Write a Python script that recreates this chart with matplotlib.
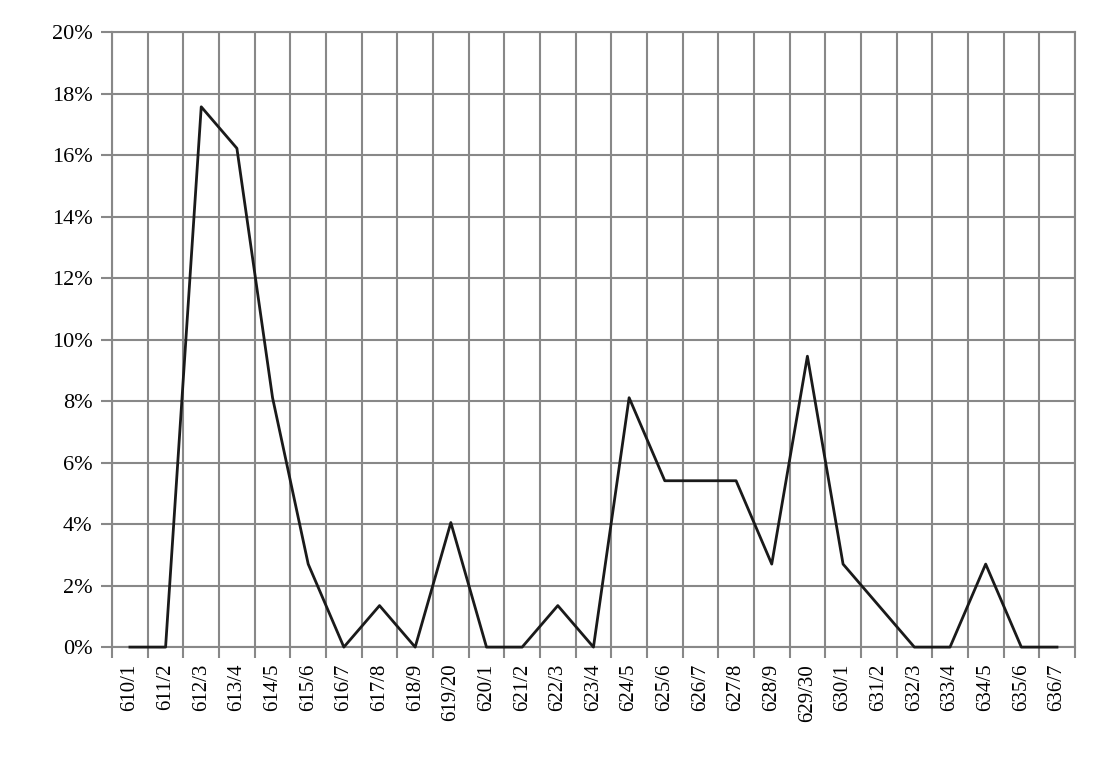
import matplotlib
matplotlib.use("Agg")
import matplotlib.pyplot as plt
import numpy as np

categories = ["610/1","611/2","612/3","613/4","614/5","615/6","616/7","617/8","618/9","619/20",
              "620/1","621/2","622/3","623/4","624/5","625/6","626/7","627/8","628/9","629/30",
              "630/1","631/2","632/3","633/4","634/5","635/6","636/7"]
values = [0,0,17.57,16.22,8.11,2.70,0,1.35,0,4.05,
          0,0,1.35,0,8.11,5.41,5.41,5.41,2.70,9.46,
          2.70,1.35,0,0,2.70,0,0]

plt.rcParams['font.family'] = ['Liberation Serif', 'DejaVu Serif']
fig = plt.figure(figsize=(10.99, 7.64), dpi=100)
ax = fig.add_axes([0.102, 0.153, 0.876, 0.805])
n = len(categories)
x = np.arange(n)
ax.plot(x, values, color='#1a1a1a', lw=2.0, zorder=5, clip_on=False)
ax.set_xlim(-0.5, n-0.5)
ax.set_ylim(0, 20)
ax.set_yticks(np.arange(0, 21, 2))
ax.set_yticklabels([f"{v}%" for v in range(0, 21, 2)], fontsize=16)
ax.set_xticks(x)
ax.set_xticklabels(categories, rotation=90, fontsize=15)
ax.tick_params(axis='x', length=0, pad=12)
ax.set_xticks(np.arange(-0.5, n, 1), minor=True)
ax.tick_params(axis='x', which='minor', length=8, color='#888888', width=1.5)
ax.tick_params(axis='y', length=8, color='#888888', width=1.5, pad=6)
ax.grid(True, which='minor', axis='x', color='#888888', lw=1.5)
ax.grid(True, which='major', axis='y', color='#888888', lw=1.5)
ax.set_axisbelow(True)
for s in ax.spines.values():
    s.set_color('#888888'); s.set_linewidth(1.5)
fig.savefig("out.png", dpi=100)
